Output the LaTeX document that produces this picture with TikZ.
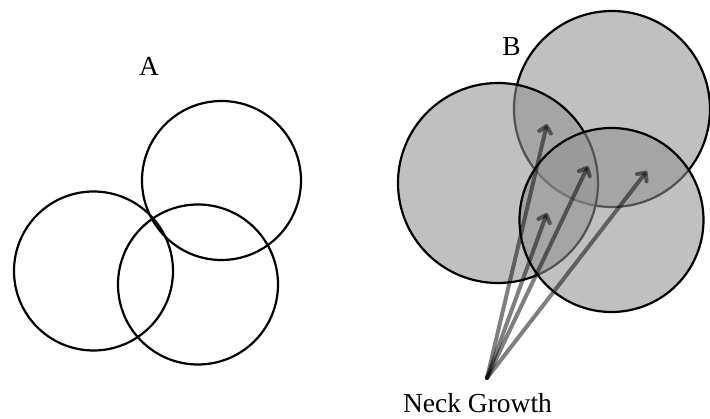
\documentclass[tikz,border=0pt]{standalone}
\usepackage{fontspec}
\setmainfont{Liberation Serif}
\usetikzlibrary{arrows.meta}
\definecolor{fillg}{gray}{0.57}
\tikzset{
  ringA/.style={circle, draw=black, line width=2.2pt, inner sep=0pt, minimum size=#1},
  ringB/.style={circle, draw=black, line width=2.2pt, inner sep=0pt, fill=fillg, fill opacity=0.57, minimum size=#1},
  growarrow/.style={draw=black, draw opacity=0.5, line width=4pt, line cap=round,
    -{Straight Barb[length=6.5pt,width=12pt,round]}},
  lbl/.style={font=\fontsize{27.5}{32}\selectfont, anchor=base, inner sep=0pt}
}
\begin{document}
\begin{tikzpicture}[x=1pt,y=-1pt]
\useasboundingbox (0,0) rectangle (710,419);
% Part A
\node[ringA=159pt] (a1) at (93.5,271) {};
\node[ringA=159pt] (a2) at (221.5,180.5) {};
\node[ringA=160pt] (a3) at (198,284.5) {};
\node[lbl] (labA) at (149,76) {A};
% Part B
\node[ringB=196pt] (b2) at (612,109) {};
\node[ringB=200pt] (b1) at (498,183) {};
\node[ringB=184pt] (b3) at (611.5,220) {};
\node[lbl] (labB) at (511.5,56) {B};
% arrows
\coordinate (ng) at (487,378);
\coordinate (t1) at (547,124);
\coordinate (t2) at (588,166);
\coordinate (t3) at (647,171);
\coordinate (t4) at (547,213);
\draw[growarrow] (ng) -- (t1);
\draw[growarrow] (ng) -- (t2);
\draw[growarrow] (ng) -- (t3);
\draw[growarrow] (ng) -- (t4);
\node[lbl] (neck) at (477.5,413) {Neck Growth};
\end{tikzpicture}
\end{document}
